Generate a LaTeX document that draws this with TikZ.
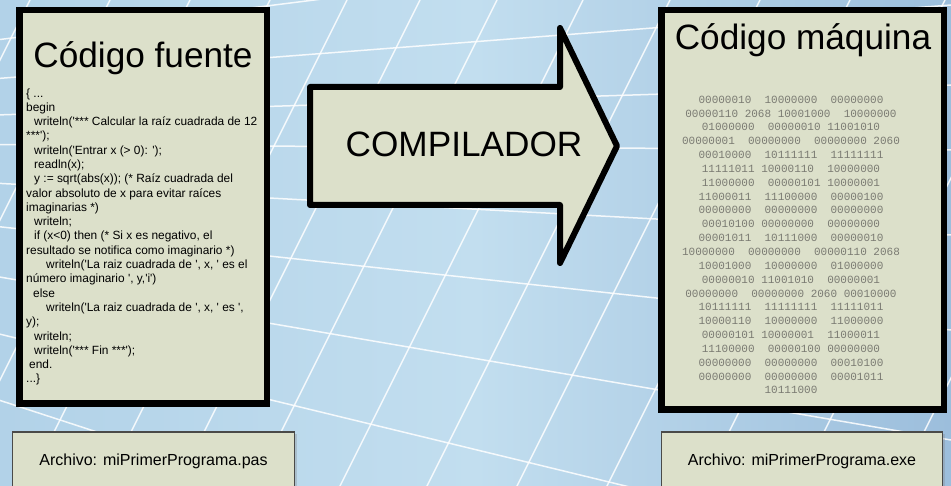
\documentclass[tikz,border=0pt]{standalone}
\usepackage{fontspec}
\setmainfont{Liberation Sans}
\newfontfamily\binfont{Liberation Mono}
\usetikzlibrary{shadows}
\definecolor{boxfill}{HTML}{DCE0CA}
\definecolor{bgL}{HTML}{B2D2E8}
\definecolor{bgM}{HTML}{C2DEEF}
\definecolor{bgR}{HTML}{9CBEDC}
\definecolor{bincol}{HTML}{7A7A72}
\definecolor{lblborder}{HTML}{4A4A48}
\newcommand{\sq}{\textquotesingle}
\begin{document}
\begin{tikzpicture}[x=1pt,y=-1pt,
  gridline/.style={white, line width=1.5pt, opacity=0.85},
  bigbox/.style={draw=black, line width=6.5pt, fill=boxfill, inner sep=0pt,
    drop shadow={shadow xshift=2pt, shadow yshift=-2pt, opacity=0.35}},
  lblbox/.style={draw=lblborder, line width=1.2pt, fill=boxfill, inner sep=0pt,
    minimum height=58pt, font=\fontsize{16}{19}\selectfont,
    drop shadow={shadow xshift=2pt, shadow yshift=-2pt, opacity=0.3}},
  titletext/.style={font=\fontsize{35.2}{40}\selectfont, inner sep=0pt, anchor=base},
  codetext/.style={font=\fontsize{11.9}{14.3}\selectfont, align=left, inner sep=0pt, anchor=base west},
  bintext/.style={font=\binfont\fontsize{11}{13.85}\selectfont, text=bincol, align=center, inner sep=0pt, anchor=base},
  arrowshape/.style={draw=black, line width=6pt, fill=boxfill, line join=round}
]
\useasboundingbox (0,0) rectangle (951,486);
% background
\fill[left color=bgL, right color=bgR, middle color=bgM] (0,0) rectangle (951,486);
\begin{scope}
\clip (0,0) rectangle (951,486);
\foreach \yy in {-80,5,85,150,235,330,440,565,710}
  \draw[gridline] (-800,140) -- (951,\yy);
\foreach \xx in {30,110,190,270,347,420,497,583,670,760,850,945,1040,1140}
  \draw[gridline] (\xx,0) -- ++(-260,520);
\end{scope}
% main boxes
\node[bigbox, minimum width=247.5pt, minimum height=393.5pt] (src) at (143,207) {};
\node[bigbox, minimum width=282.5pt, minimum height=399.5pt] (mach) at (802.5,210) {};
% label boxes
\node[lblbox, minimum width=282pt] (srcfile) at (153.5,461) {Archivo: miPrimerPrograma.pas};
\node[lblbox, minimum width=281pt] (machfile) at (802,461) {Archivo: miPrimerPrograma.exe};
% arrow
\draw[arrowshape] (310,87) -- (560,87) -- (560,28) -- (617,146) -- (560,263) -- (560,205) -- (310,205) -- cycle;
\node[font=\fontsize{35.2}{40}\selectfont, inner sep=0pt] (comp) at (464,144) {COMPILADOR};
% titles
\node[titletext] (srctitle) at (143,68) {Código fuente};
\node[titletext] (machtitle) at (803,50) {Código máquina};
% source code (anchor = baseline of last line)
\node[codetext] (code) at (26,383) {%
\{ ...\\
begin\\
\hspace*{8pt}writeln(\sq*** Calcular la raíz cuadrada de 12\\
***\sq);\\
\hspace*{8pt}writeln(\sq Entrar x (> 0): \sq);\\
\hspace*{8pt}readln(x);\\
\hspace*{8pt}y := sqrt(abs(x)); (* Raíz cuadrada del\\
valor absoluto de x para evitar raíces\\
imaginarias *)\\
\hspace*{8pt}writeln;\\
\hspace*{8pt}if (x<0) then (* Si x es negativo, el\\
resultado se notifica como imaginario *)\\
\hspace*{20pt}writeln(\sq La raiz cuadrada de \sq, x, \sq\ es el\\
número imaginario \sq, y,\sq i\sq)\\
\hspace*{7pt}else\\
\hspace*{20pt}writeln(\sq La raiz cuadrada de \sq, x, \sq\ es \sq,\\
y);\\
\hspace*{8pt}writeln;\\
\hspace*{8pt}writeln(\sq*** Fin ***\sq);\\
\hspace*{3pt}end.\\
...\}};
% machine code (anchor = baseline of last line)
\node[bintext] (bin) at (791,394) {%
00000010~~10000000~~00000000\\
00000110~2068~10001000~~10000000\\
01000000~~00000010~11001010\\
00000001~~00000000~~00000000~2060\\
00010000~~10111111~~11111111\\
11111011~10000110~~10000000\\
11000000~~00000101~10000001\\
11000011~~11100000~~00000100\\
00000000~~00000000~~00000000\\
00010100~00000000~~00000000\\
00001011~~10111000~~00000010\\
10000000~~00000000~~00000110~2068\\
10001000~~10000000~~01000000\\
00000010~11001010~~00000001\\
00000000~~00000000~2060~00010000\\
10111111~~11111111~~11111011\\
10000110~~10000000~~11000000\\
00000101~10000001~~11000011\\
11100000~~00000100~00000000\\
00000000~~00000000~~00010100\\
00000000~~00000000~~00001011\\
10111000};
\end{tikzpicture}
\end{document}
